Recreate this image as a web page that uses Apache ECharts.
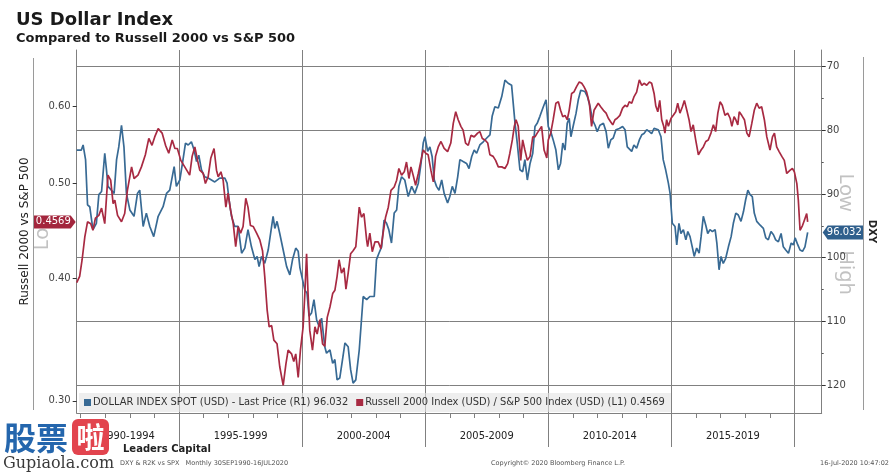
<!DOCTYPE html>
<html><head><meta charset="utf-8">
<script src="https://cdn.jsdelivr.net/npm/echarts@6/dist/echarts.min.js"></script>
<style>html,body{margin:0;padding:0;background:#fff}#c{width:894px;height:475px}</style>
</head><body><div id="c"></div>
<script>
// ---------- DATA ----------
const dxyYears = [1990.84,1991.03,1991.10,1991.20,1991.28,1991.37,1991.50,1991.64,1991.74,1991.85,1991.98,1992.05,1992.11,1992.25,1992.36,1992.46,1992.55,1992.66,1992.76,1992.86,1993.00,1993.17,1993.31,1993.40,1993.54,1993.67,1993.81,1993.97,1994.15,1994.35,1994.49,1994.62,1994.80,1994.89,1995.03,1995.16,1995.26,1995.37,1995.50,1995.61,1995.71,1995.80,1995.91,1996.04,1996.18,1996.45,1996.65,1996.86,1996.95,1997.03,1997.13,1997.26,1997.40,1997.54,1997.67,1997.80,1997.94,1998.08,1998.17,1998.25,1998.35,1998.48,1998.62,1998.76,1998.82,1998.89,1998.98,1999.09,1999.23,1999.37,1999.50,1999.61,1999.74,1999.84,1999.91,1999.98,2000.11,2000.20,2000.28,2000.38,2000.48,2000.59,2000.69,2000.79,2000.92,2000.99,2001.13,2001.24,2001.33,2001.42,2001.53,2001.64,2001.74,2001.87,2001.97,2002.07,2002.18,2002.32,2002.41,2002.48,2002.62,2002.75,2002.93,2003.02,2003.12,2003.23,2003.33,2003.43,2003.52,2003.63,2003.74,2003.84,2003.93,2004.04,2004.17,2004.31,2004.45,2004.58,2004.72,2004.83,2004.92,2004.99,2005.10,2005.19,2005.28,2005.37,2005.46,2005.56,2005.67,2005.77,2005.91,2006.00,2006.10,2006.21,2006.32,2006.41,2006.54,2006.68,2006.78,2006.89,2006.99,2007.09,2007.22,2007.36,2007.50,2007.63,2007.72,2007.83,2007.97,2008.11,2008.24,2008.37,2008.51,2008.65,2008.74,2008.85,2008.96,2009.05,2009.15,2009.26,2009.37,2009.46,2009.55,2009.66,2009.80,2009.91,2010.00,2010.10,2010.20,2010.31,2010.41,2010.50,2010.59,2010.68,2010.77,2010.85,2010.92,2011.02,2011.13,2011.22,2011.32,2011.40,2011.49,2011.59,2011.70,2011.80,2011.90,2011.99,2012.10,2012.24,2012.35,2012.44,2012.54,2012.64,2012.75,2012.89,2013.02,2013.12,2013.21,2013.29,2013.39,2013.48,2013.59,2013.70,2013.80,2013.89,2014.00,2014.11,2014.20,2014.30,2014.47,2014.58,2014.67,2014.77,2014.88,2014.95,2015.04,2015.15,2015.22,2015.31,2015.39,2015.49,2015.59,2015.67,2015.76,2015.85,2015.93,2016.03,2016.13,2016.21,2016.30,2016.40,2016.48,2016.57,2016.67,2016.78,2016.85,2016.94,2017.02,2017.11,2017.21,2017.32,2017.43,2017.52,2017.62,2017.72,2017.83,2017.93,2018.02,2018.11,2018.20,2018.29,2018.37,2018.47,2018.61,2018.74,2018.84,2018.94,2019.05,2019.15,2019.24,2019.35,2019.46,2019.55,2019.65,2019.76,2019.87,2019.96,2020.03,2020.14,2020.23,2020.33,2020.43,2020.54];
const dxyValues = [83.1,83.1,82.3,84.6,91.7,92.0,95.6,94.6,90.1,89.6,83.6,86.2,88.8,89.4,89.9,84.6,82.6,79.2,82.6,89.9,92.5,93.5,89.9,89.4,95.1,93.0,95.1,96.7,93.5,92.0,89.9,89.4,85.7,88.8,87.8,84.6,82.0,82.3,81.8,83.1,84.9,83.9,86.2,87.3,87.5,88.1,87.5,87.5,88.3,90.9,93.5,95.1,95.1,99.3,98.5,95.6,98.3,100.3,99.8,101.4,99.8,100.9,98.8,95.1,93.5,95.4,94.3,96.2,98.8,101.4,102.7,100.3,98.5,99.0,101.6,101.9,105.1,105.6,109.2,108.7,106.6,109.8,110.8,109.5,114.0,115.0,114.5,116.6,116.0,119.2,118.9,116.0,113.4,114.0,117.6,119.7,119.2,114.5,109.8,106.1,106.6,106.1,106.1,100.3,99.3,98.3,94.1,94.6,95.6,97.7,93.0,92.5,88.8,87.3,87.8,90.4,88.8,89.9,88.3,85.2,82.0,81.0,83.3,82.6,84.1,87.8,88.8,89.4,87.8,89.9,91.4,90.4,88.8,89.9,87.3,84.6,84.9,85.2,86.0,84.1,83.1,83.6,82.3,81.8,81.2,80.7,77.8,76.3,76.5,74.7,72.1,72.6,72.9,78.9,82.0,86.2,86.5,84.6,87.8,85.2,83.6,79.4,78.9,77.8,76.3,75.2,79.4,80.2,81.5,83.1,86.2,85.2,82.0,83.1,78.9,78.1,81.0,79.2,77.3,75.2,73.7,73.4,73.9,74.7,76.3,78.4,79.2,80.2,79.2,78.9,80.2,82.8,81.5,81.2,79.9,79.7,79.4,79.9,82.6,82.8,83.3,82.3,82.8,81.5,80.7,80.5,79.9,80.2,80.5,79.7,79.9,81.0,84.6,86.2,88.3,89.9,94.6,95.1,98.0,94.6,96.2,95.6,97.2,95.9,96.7,98.3,99.8,98.5,99.3,96.7,93.5,94.9,96.2,95.6,95.9,95.6,97.7,101.9,99.8,100.9,100.1,98.3,96.7,94.6,93.0,93.3,94.3,92.8,90.9,89.4,90.1,90.4,93.0,94.3,94.9,95.4,96.9,97.2,95.9,96.4,97.2,97.5,96.2,98.3,98.8,99.3,97.7,98.0,96.9,98.0,98.8,99.0,98.3,96.032];

const ratioYears = [1990.84,1990.96,1991.06,1991.17,1991.28,1991.41,1991.50,1991.60,1991.74,1991.85,1991.98,1992.11,1992.22,1992.32,1992.39,1992.50,1992.66,1992.79,1992.90,1993.07,1993.17,1993.33,1993.47,1993.63,1993.77,1993.90,1994.01,1994.15,1994.31,1994.45,1994.58,1994.72,1994.83,1994.93,1995.07,1995.23,1995.43,1995.53,1995.64,1995.75,1995.84,1995.98,1996.07,1996.18,1996.29,1996.42,1996.52,1996.59,1996.70,1996.79,1996.90,1996.99,1997.09,1997.20,1997.30,1997.40,1997.50,1997.60,1997.71,1997.80,1997.90,1998.01,1998.15,1998.28,1998.39,1998.48,1998.58,1998.66,1998.76,1998.85,1998.98,1999.09,1999.23,1999.34,1999.43,1999.57,1999.66,1999.74,1999.84,1999.93,2000.04,2000.11,2000.18,2000.24,2000.31,2000.42,2000.52,2000.61,2000.72,2000.83,2000.92,2001.02,2001.13,2001.24,2001.33,2001.42,2001.50,2001.60,2001.70,2001.78,2001.87,2001.97,2002.07,2002.18,2002.32,2002.41,2002.51,2002.62,2002.66,2002.75,2002.85,2002.96,2003.09,2003.20,2003.29,2003.39,2003.50,2003.61,2003.74,2003.84,2003.93,2004.04,2004.15,2004.24,2004.34,2004.42,2004.51,2004.61,2004.72,2004.83,2004.92,2005.02,2005.12,2005.23,2005.33,2005.42,2005.53,2005.64,2005.77,2005.91,2006.04,2006.14,2006.24,2006.34,2006.45,2006.54,2006.64,2006.75,2006.86,2006.99,2007.13,2007.22,2007.32,2007.43,2007.54,2007.63,2007.76,2007.86,2007.97,2008.11,2008.24,2008.35,2008.44,2008.54,2008.62,2008.69,2008.78,2008.88,2008.96,2009.05,2009.15,2009.26,2009.37,2009.46,2009.55,2009.63,2009.73,2009.83,2009.94,2010.00,2010.10,2010.20,2010.31,2010.41,2010.50,2010.59,2010.68,2010.77,2010.85,2010.95,2011.04,2011.15,2011.26,2011.36,2011.45,2011.56,2011.67,2011.76,2011.86,2011.94,2012.03,2012.13,2012.24,2012.35,2012.44,2012.54,2012.62,2012.71,2012.80,2012.91,2013.02,2013.12,2013.21,2013.29,2013.39,2013.48,2013.59,2013.70,2013.80,2013.89,2014.00,2014.11,2014.20,2014.30,2014.37,2014.45,2014.53,2014.61,2014.69,2014.74,2014.81,2014.88,2014.99,2015.08,2015.18,2015.26,2015.35,2015.45,2015.53,2015.63,2015.72,2015.80,2015.89,2015.99,2016.10,2016.21,2016.30,2016.40,2016.50,2016.61,2016.71,2016.80,2016.89,2016.98,2017.07,2017.18,2017.29,2017.39,2017.46,2017.55,2017.62,2017.70,2017.76,2017.86,2017.97,2018.07,2018.16,2018.27,2018.37,2018.47,2018.57,2018.67,2018.78,2018.88,2018.94,2019.01,2019.11,2019.19,2019.28,2019.38,2019.49,2019.59,2019.69,2019.83,2019.92,2020.00,2020.10,2020.16,2020.23,2020.33,2020.41,2020.50,2020.54];
const ratioValues = [0.396,0.402,0.418,0.441,0.457,0.455,0.448,0.461,0.464,0.472,0.455,0.510,0.504,0.477,0.481,0.464,0.457,0.466,0.492,0.520,0.506,0.510,0.520,0.535,0.556,0.547,0.558,0.569,0.563,0.547,0.537,0.554,0.543,0.543,0.528,0.520,0.510,0.533,0.545,0.528,0.516,0.512,0.500,0.508,0.531,0.543,0.516,0.508,0.514,0.504,0.473,0.489,0.470,0.455,0.431,0.452,0.445,0.452,0.483,0.473,0.453,0.452,0.445,0.438,0.427,0.402,0.371,0.357,0.358,0.346,0.343,0.325,0.311,0.327,0.338,0.335,0.329,0.335,0.317,0.338,0.357,0.386,0.424,0.386,0.354,0.338,0.357,0.351,0.363,0.343,0.341,0.365,0.374,0.386,0.389,0.402,0.418,0.405,0.410,0.390,0.405,0.424,0.427,0.431,0.473,0.462,0.466,0.438,0.431,0.445,0.426,0.436,0.436,0.429,0.445,0.462,0.473,0.492,0.496,0.504,0.518,0.510,0.514,0.526,0.506,0.520,0.510,0.498,0.512,0.528,0.541,0.537,0.535,0.516,0.502,0.533,0.545,0.552,0.543,0.539,0.550,0.576,0.592,0.581,0.572,0.567,0.550,0.547,0.560,0.558,0.563,0.565,0.556,0.554,0.550,0.535,0.533,0.528,0.520,0.520,0.518,0.524,0.537,0.554,0.572,0.581,0.572,0.528,0.554,0.541,0.528,0.533,0.558,0.558,0.563,0.563,0.572,0.541,0.531,0.554,0.563,0.581,0.604,0.606,0.594,0.585,0.587,0.581,0.594,0.618,0.620,0.628,0.635,0.633,0.628,0.620,0.604,0.572,0.594,0.592,0.604,0.599,0.594,0.590,0.583,0.578,0.574,0.581,0.583,0.587,0.597,0.601,0.599,0.606,0.604,0.613,0.620,0.638,0.630,0.633,0.630,0.635,0.633,0.618,0.600,0.592,0.608,0.581,0.572,0.563,0.581,0.572,0.583,0.587,0.592,0.604,0.590,0.599,0.608,0.594,0.581,0.565,0.574,0.554,0.535,0.541,0.545,0.552,0.554,0.563,0.574,0.565,0.590,0.606,0.601,0.587,0.590,0.583,0.572,0.585,0.581,0.574,0.592,0.587,0.581,0.563,0.558,0.576,0.594,0.604,0.597,0.599,0.581,0.558,0.556,0.541,0.558,0.563,0.545,0.539,0.533,0.528,0.512,0.516,0.518,0.514,0.500,0.481,0.448,0.453,0.459,0.466,0.4569];

const seriesNames = ['DOLLAR INDEX SPOT (USD) - Last Price (R1)', 'Russell 2000 Index (USD) / S&P 500 Index (USD) (L1)'];
const periodStarts = [1990, 1995, 2000, 2005, 2010, 2015];
const periodLabels = ['1990-1994', '1995-1999', '2000-2004', '2005-2009', '2010-2014', '2015-2019'];
const gridYears = [1995, 2000, 2005, 2010, 2015, 2020];
const yearTicks = [1991,1992,1993,1994,1996,1997,1998,1999,2001,2002,2003,2004,2006,2007,2008,2009,2011,2012,2013,2014,2016,2017,2018,2019];
const ratioTicks = [0.3, 0.4, 0.5, 0.6];
const dxyTicks = [70, 80, 90, 100, 110, 120];
const dxyMinorTicks = [75, 85, 95, 105, 115];

// ---------- LAYOUT / STYLE ----------
const X_MIN = 1990.84, X_MAX = 2021.11;
const R_MIN = 0.2915, R_MAX = 0.6845;
const D_MIN = 67.38, D_MAX = 124.4;
const BLUE = '#386a94', RED = '#a82a42';
const GRID = '#808080';
const FONT = "'DejaVu Sans', Verdana, sans-serif";
const COND = "'DejaVu Sans Condensed', 'Liberation Sans Narrow', 'DejaVu Sans', sans-serif";

const lastDxy = dxyValues[dxyValues.length - 1];
const lastRatio = ratioValues[ratioValues.length - 1];
const lastText = [String(lastDxy), String(lastRatio)];

const periodCenters = periodStarts.map(s => (Math.max(s, X_MIN) + Math.min(s + 5, X_MAX)) / 2);

const chart = echarts.init(document.getElementById('c'), null, {renderer: 'canvas'});

const option = {
  animation: false,
  backgroundColor: '#fff',
  grid: {left: 76.7, right: 72.3, top: 50, bottom: 62, containLabel: false},
  legend: {
    data: seriesNames,
    left: 79, top: 393,
    icon: 'rect', itemWidth: 7, itemHeight: 7, itemGap: 8,
    padding: [4, 6, 4, 5],
    backgroundColor: 'rgba(226,226,226,0.6)',
    selectedMode: false,
    formatter: name => name + ' ' + lastText[seriesNames.indexOf(name)],
    textStyle: {fontFamily: COND, fontSize: 11, color: '#333', padding: [0, 0, 0, -3]}
  },
  xAxis: [
    {
      type: 'value', min: X_MIN, max: X_MAX, position: 'bottom',
      axisLine: {show: true, lineStyle: {color: GRID, width: 1}},
      axisTick: {show: true, customValues: yearTicks, length: 5, lineStyle: {color: GRID}},
      axisLabel: {
        customValues: periodCenters, margin: 18,
        fontFamily: COND, fontSize: 11, color: '#222',
        formatter: v => { const i = periodStarts.findIndex(s => v >= s && v < s + 5); return i >= 0 ? periodLabels[i] : ''; }
      },
      splitLine: {show: false}
    },
    {
      type: 'value', min: X_MIN, max: X_MAX, position: 'bottom',
      axisLine: {show: false},
      axisTick: {show: true, customValues: gridYears, length: 34, lineStyle: {color: GRID}},
      axisLabel: {show: false},
      splitLine: {show: true, lineStyle: {color: GRID, width: 1}}
    }
  ],
  yAxis: [
    {
      type: 'log', min: R_MIN, max: R_MAX, position: 'left',
      name: 'Russell 2000 vs S&P 500', nameLocation: 'middle', nameGap: 46, nameRotate: 90,
      nameTextStyle: {fontFamily: FONT, fontSize: 12, color: '#222'},
      axisLine: {show: true, lineStyle: {color: GRID}},
      axisTick: {show: true, customValues: ratioTicks, length: 4, lineStyle: {color: '#333'}},
      axisLabel: {customValues: ratioTicks, formatter: v => Number(v).toFixed(2), margin: 6, fontFamily: FONT, fontSize: 10, color: '#444'},
      splitLine: {show: false}
    },
    {
      type: 'value', min: D_MIN, max: D_MAX, inverse: true, position: 'right',
      name: 'DXY', nameLocation: 'middle', nameGap: 45, nameRotate: -90,
      nameTextStyle: {fontFamily: FONT, fontSize: 10, fontWeight: 'bold', color: '#222'},
      axisLine: {show: true, lineStyle: {color: GRID}},
      axisTick: {show: true, customValues: dxyTicks, length: 4, lineStyle: {color: '#333'}},
      axisLabel: {customValues: dxyTicks, margin: 5, fontFamily: FONT, fontSize: 10, color: '#444'},
      splitLine: {show: true, lineStyle: {color: GRID, width: 1}}
    },
    {
      type: 'value', min: D_MIN, max: D_MAX, inverse: true, position: 'right',
      axisLine: {show: false},
      axisTick: {show: true, customValues: dxyMinorTicks, length: 2, lineStyle: {color: '#555'}},
      axisLabel: {show: false},
      splitLine: {show: false}
    }
  ],
  series: [
    {
      name: seriesNames[0], type: 'line', xAxisIndex: 0, yAxisIndex: 1,
      data: dxyYears.map((x, i) => [x, dxyValues[i]]),
      showSymbol: false, symbol: 'none', z: 3,
      lineStyle: {color: BLUE, width: 1.7}, itemStyle: {color: BLUE}
    },
    {
      name: seriesNames[1], type: 'line', xAxisIndex: 0, yAxisIndex: 0,
      data: ratioYears.map((x, i) => [x, ratioValues[i]]),
      showSymbol: false, symbol: 'none', z: 4,
      lineStyle: {color: RED, width: 1.7}, itemStyle: {color: RED}
    }
  ]
};
chart.setOption(option);

const yR = chart.convertToPixel({yAxisIndex: 0}, lastRatio);
const yD = chart.convertToPixel({yAxisIndex: 1}, lastDxy);
const pL = chart.convertToPixel({xAxisIndex: 0}, X_MIN);
const pR = chart.convertToPixel({xAxisIndex: 0}, X_MAX);

const small = {fontFamily: FONT, fontSize: 6.5, fill: '#555'};
chart.setOption({
  graphic: [
    {type: 'text', x: 16, y: 20, style: {text: 'US Dollar Index', fontFamily: FONT, fontWeight: 'bold', fontSize: 18, fill: '#1a1a1a', verticalAlign: 'middle'}},
    {type: 'text', x: 16, y: 38.5, style: {text: 'Compared to Russell 2000 vs S&P 500', fontFamily: FONT, fontWeight: 'bold', fontSize: 13, fill: '#1a1a1a', verticalAlign: 'middle'}},
    {type: 'line', shape: {x1: 33.5, y1: 58, x2: 33.5, y2: 410}, style: {stroke: '#9a9a9a', lineWidth: 1}},
    {type: 'line', shape: {x1: 863.5, y1: 57, x2: 863.5, y2: 410}, style: {stroke: '#9a9a9a', lineWidth: 1}},
    {type: 'text', x: 846, y: 192.5, rotation: -Math.PI / 2, style: {text: 'Low', fontFamily: "'Noto Sans', sans-serif", fontSize: 20, fill: '#c2c2c2', align: 'center', verticalAlign: 'middle'}},
    {type: 'text', x: 846, y: 232, rotation: -Math.PI / 2, style: {text: '=', fontFamily: "'Noto Sans', sans-serif", fontSize: 20, fill: '#c2c2c2', align: 'center', verticalAlign: 'middle'}},
    {type: 'text', x: 846, y: 272.5, rotation: -Math.PI / 2, style: {text: 'High', fontFamily: "'Noto Sans', sans-serif", fontSize: 20, fill: '#c2c2c2', align: 'center', verticalAlign: 'middle'}},
    {type: 'text', x: 42, y: 239, rotation: Math.PI / 2, style: {text: 'Lo', fontFamily: "'Noto Sans', sans-serif", fontSize: 20, fill: '#c2c2c2', align: 'center', verticalAlign: 'middle'}},
    {type: 'polygon', z: 100, shape: {points: [[34, yR - 6.5], [pL - 6, yR - 6.5], [pL - 1, yR], [pL - 6, yR + 6.5], [34, yR + 6.5]]}, style: {fill: '#a3263d'}},
    {type: 'text', z: 101, x: (34 + pL - 4) / 2, y: yR, style: {text: lastText[1], fontFamily: FONT, fontSize: 10, fill: '#fff', align: 'center', verticalAlign: 'middle'}},
    {type: 'polygon', z: 100, shape: {points: [[pR + 1, yD], [pR + 6, yD - 7], [863, yD - 7], [863, yD + 7], [pR + 6, yD + 7]]}, style: {fill: '#2f5f8c'}},
    {type: 'text', z: 101, x: (pR + 4 + 863) / 2, y: yD, style: {text: lastText[0], fontFamily: FONT, fontSize: 10, fill: '#fff', align: 'center', verticalAlign: 'middle'}},
    {type: 'text', x: 123, y: 449, style: {text: 'Leaders Capital', fontFamily: FONT, fontWeight: 'bold', fontSize: 10, fill: '#222', verticalAlign: 'middle'}},
    {type: 'text', x: 120, y: 463, style: Object.assign({text: 'DXY & R2K vs SPX   Monthly 30SEP1990-16JUL2020', verticalAlign: 'middle'}, small)},
    {type: 'text', x: 558, y: 463, style: Object.assign({text: 'Copyright\u00a9 2020 Bloomberg Finance L.P.', align: 'center', verticalAlign: 'middle'}, small)},
    {type: 'text', x: 889, y: 463, style: Object.assign({text: '16-Jul-2020 10:47:02', align: 'right', verticalAlign: 'middle'}, small)},
    {type: 'text', z: 110, x: 36, y: 438, style: {text: '股票', fontFamily: "'Noto Sans CJK SC', sans-serif", fontWeight: 'bold', fontSize: 32, fill: '#2466ad', stroke: '#ffffff', lineWidth: 2, align: 'center', verticalAlign: 'middle'}},
    {type: 'rect', z: 110, shape: {x: 72, y: 419, width: 37, height: 36, r: 6}, style: {fill: '#e2444e'}},
    {type: 'text', z: 111, x: 90.5, y: 437.5, style: {text: '啦', fontFamily: "'Noto Sans CJK SC', sans-serif", fontWeight: 'bold', fontSize: 28, fill: '#fff', align: 'center', verticalAlign: 'middle'}},
    {type: 'text', z: 110, x: 3, y: 464, style: {text: 'Gupiaola.com', fontFamily: "'DejaVu Serif', serif", fontSize: 16, fill: '#3a3a3a', stroke: '#fff', lineWidth: 2, verticalAlign: 'middle'}}
  ]
});
</script>
</body></html>
